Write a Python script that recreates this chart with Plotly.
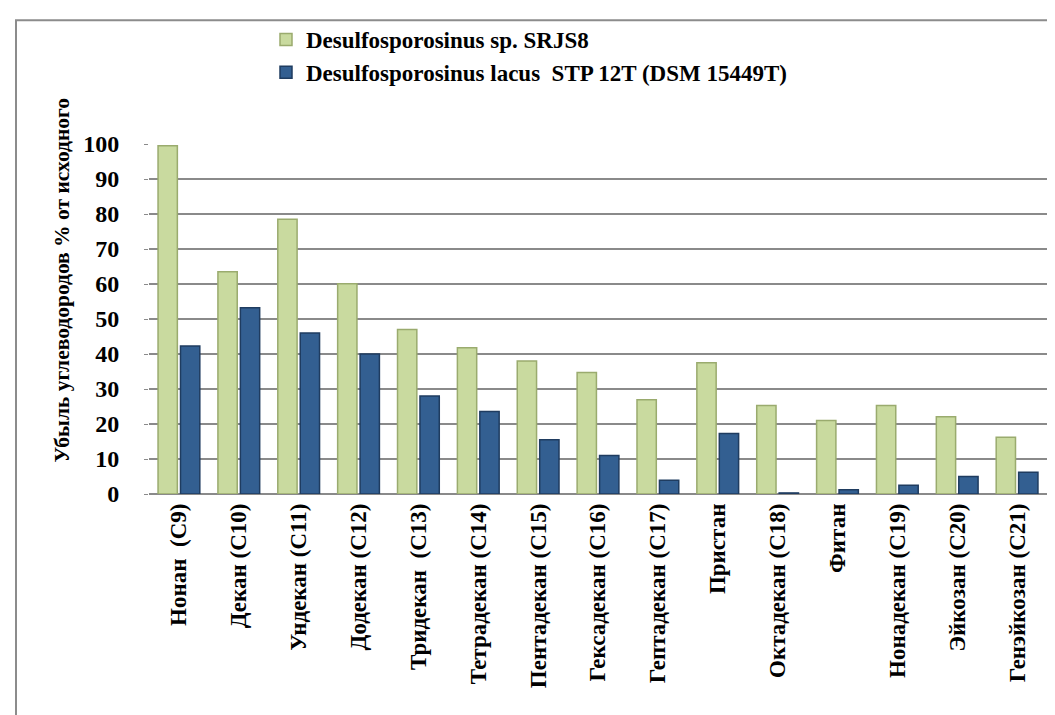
import plotly.graph_objects as go

categories = ["Нонан  (С9)", "Декан (С10)", "Ундекан (С11)", "Додекан (С12)", "Тридекан  (С13)",
              "Тетрадекан (С14)", "Пентадекан (С15)", "Гексадекан (С16)", "Гептадекан (С17)",
              "Пристан", "Октадекан (С18)", "Фитан", "Нонадекан (С19)", "Эйкозан (С20)",
              "Генэйкозан (С21)"]
srjs8 = [99.5, 63.5, 78.5, 60.1, 47.0, 41.8, 38.0, 34.7, 26.9, 37.5, 25.3, 21.0, 25.3, 22.1, 16.2]
lacus = [42.3, 53.2, 46.0, 40.0, 28.0, 23.6, 15.5, 11.0, 3.9, 17.3, 0.3, 1.2, 2.5, 5.0, 6.2]
y_ticks = [0, 10, 20, 30, 40, 50, 60, 70, 80, 90, 100]

font_family = "Liberation Serif, Times New Roman, serif"

fig = go.Figure()
fig.add_trace(go.Bar(
    x=categories, y=srjs8, name="<b>Desulfosporosinus sp. SRJS8</b>",
    marker=dict(color="#c9da9f", line=dict(color="#9aab6e", width=1.5))
))
fig.add_trace(go.Bar(
    x=categories, y=lacus, name="<b>Desulfosporosinus lacus  STP 12T (DSM 15449T)</b>",
    marker=dict(color="#335f91", line=dict(color="#1f3c60", width=1.5))
))

# рамка вокруг всей диаграммы (в координатах paper)
fig.add_shape(type="rect", xref="paper", yref="paper",
              x0=-133 / 898, x1=1.05, y0=-0.66, y1=(486 - 11) / 351,
              line=dict(color="#8c8c8c", width=2), fillcolor="rgba(0,0,0,0)")

# подпись оси Y как аннотация, чтобы поставить её как в оригинале
fig.add_annotation(
    text="<b>Убыль углеводородов % от исходного</b>",
    xref="paper", yref="paper", x=(54 - 141) / 898, y=(486 - 272) / 351,
    xanchor="center", yanchor="middle", textangle=-90, showarrow=False,
    font=dict(family=font_family, size=21.5, color="black"),
)

fig.update_layout(
    width=1055, height=715,
    margin=dict(l=141, r=16, t=135, b=229),
    plot_bgcolor="white", paper_bgcolor="white",
    barmode="group", bargap=0.25, bargroupgap=0.14,
    font=dict(family=font_family, size=20, color="black"),
    showlegend=True,
    legend=dict(x=(258 - 141) / 898, y=(486 - 10) / 351, xanchor="left", yanchor="top",
                font=dict(family=font_family, size=23, color="black"),
                itemwidth=30, tracegroupgap=0, bgcolor="rgba(0,0,0,0)"),
)
fig.update_xaxes(
    tickangle=-90, showgrid=False, showline=False, ticks="",
    tickfont=dict(family=font_family, size=23),
    tickprefix="<b>", ticksuffix="</b>", ticklabelstandoff=4,
)
fig.update_yaxes(
    range=[0, 100], tickvals=y_ticks,
    ticktext=[f"<b>{t}</b>" for t in y_ticks],
    showgrid=True, gridcolor="#8a8a8a", gridwidth=1.5,
    zeroline=True, zerolinecolor="#8a8a8a", zerolinewidth=1.5,
    showline=False, ticks="outside", ticklen=4, tickcolor="#8a8a8a",
    ticklabelstandoff=20,
    tickfont=dict(family=font_family, size=24),
)

fig.write_html("out.html")
